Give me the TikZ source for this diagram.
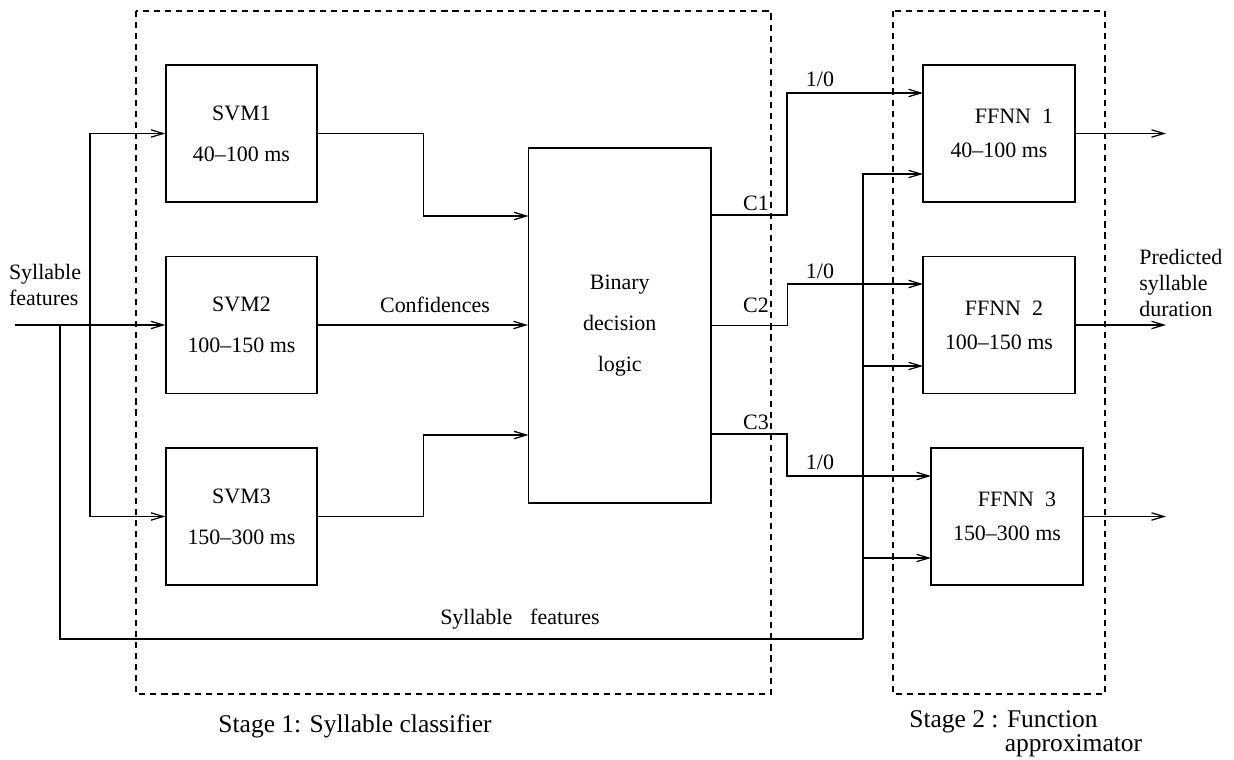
\documentclass[tikz,border=0pt]{standalone}
\usepackage{fontspec}
\setmainfont{Liberation Serif}
\usetikzlibrary{arrows.meta}

\begin{document}
\begin{tikzpicture}[x=0.02cm, y=-0.02cm,
		wire/.style={line width=0.7pt},
		flow/.style={wire, -{Straight Barb[length=7pt,width=4.2pt]}},
		blk/.style={draw, wire, rectangle, inner sep=0pt, align=center, minimum width=3.02cm, minimum height=2.74cm, font=\fontsize{12.5}{23.2}\selectfont},
		nnblk/.style={blk, minimum width=3.04cm, font=\fontsize{12.5}{19.3}\selectfont},
		stagebox/.style={wire, dash pattern=on 3.5pt off 2.8pt},
		lbl/.style={inner sep=0pt, font=\fontsize{12.5}{14.7}\selectfont},
		stagelbl/.style={inner sep=0pt, font=\fontsize{14.5}{14}\selectfont}]
		\useasboundingbox (0,0) rectangle (1234,760);

		\draw[stagebox] (136,11) rectangle (771,694);
		\draw[stagebox] (893,11) rectangle (1105,694);

		\node[blk] (svm1) at (241.5,133.5) {SVM1\\40--100 ms};
		\node[blk] (svm2) at (241.5,325) {SVM2\\100--150 ms};
		\node[blk] (svm3) at (241.5,516.5) {SVM3\\150--300 ms};
		\node[blk, minimum width=3.65cm, minimum height=7.1cm] (logic) at (619.75,325.5) {Binary\\decision\\logic};

		\node[nnblk] (ffnn1) at (999,133.5) {\hspace*{0.6cm}FFNN~~1\\40--100 ms};
		\node[nnblk] (ffnn2) at (999,325) {\hspace*{0.2cm}FFNN~~2\\100--150 ms};
		\node[nnblk] (ffnn3) at (1007,516.5) {\hspace*{0.4cm}FFNN~~3\\150--300 ms};

		\coordinate (src) at (15,325);
		\coordinate (split1) at (90,325);
		\coordinate (split2) at (60,325);
		\coordinate (fbcorner) at (863,639);
		\coordinate (lin1) at (528.5,216);
		\coordinate (lin3) at (528.5,435);
		\coordinate (lout1) at (711,215);
		\coordinate (lout3) at (711,434);
		\coordinate (f1a) at (923,93);
		\coordinate (f1b) at (923,174);
		\coordinate (f2a) at (923,284);
		\coordinate (f2b) at (923,366);
		\coordinate (f3a) at (931,476);
		\coordinate (f3b) at (931,558);
		\coordinate (out1) at (1166,133.5);
		\coordinate (out2) at (1166,325);
		\coordinate (out3) at (1166,516.5);

		\draw[flow] (src) -- (svm2.west);
		\draw[flow] (split1) |- (svm1.west);
		\draw[flow] (split1) |- (svm3.west);

		\draw[flow] (svm1.east) -- ++(106,0) |- (lin1);
		\draw[flow] (svm2.east) -- (svm2.east -| logic.west);
		\draw[flow] (svm3.east) -- ++(106,0) |- (lin3);

		\draw[flow] (lout1) -- ++(76,0) |- (f1a);
		\draw[flow] (logic.east) -- ++(76,0) |- (f2a);
		\draw[flow] (lout3) -- ++(76,0) |- (f3a);

		\draw[wire] (split2) |- (fbcorner);
		\draw[flow] (fbcorner) |- (f1b);
		\draw[flow] (fbcorner) |- (f2b);
		\draw[flow] (fbcorner) |- (f3b);

		\draw[flow] (ffnn1.east) -- (out1);
		\draw[flow] (ffnn2.east) -- (out2);
		\draw[flow] (ffnn3.east) -- (out3);

		\node[lbl, align=left] (inlbl) at (45,285) {Syllable\\features};
		\node[lbl] (conf) at (435,305) {Confidences};
		\node[lbl] (c1) at (756,203) {C1};
		\node[lbl] (c2) at (756,305) {C2};
		\node[lbl] (c3) at (756,422) {C3};
		\node[lbl] (bit1) at (820,79) {1/0};
		\node[lbl] (bit2) at (820,271) {1/0};
		\node[lbl] (bit3) at (820,462) {1/0};
		\node[lbl] (fblbl) at (520,619) {Syllable\hspace{0.36cm}features};
		\node[lbl, align=left, anchor=west] (outlbl) at (1139,283) {Predicted\\syllable\\duration};
		\node[stagelbl] (st1) at (355,726) {Stage 1: Syllable classifier};
		\node[stagelbl, align=left, anchor=west] (st2) at (909,734) {Stage 2 : Function\\\phantom{Stage 2 :\ }approximator};
	\end{tikzpicture}
\end{document}
